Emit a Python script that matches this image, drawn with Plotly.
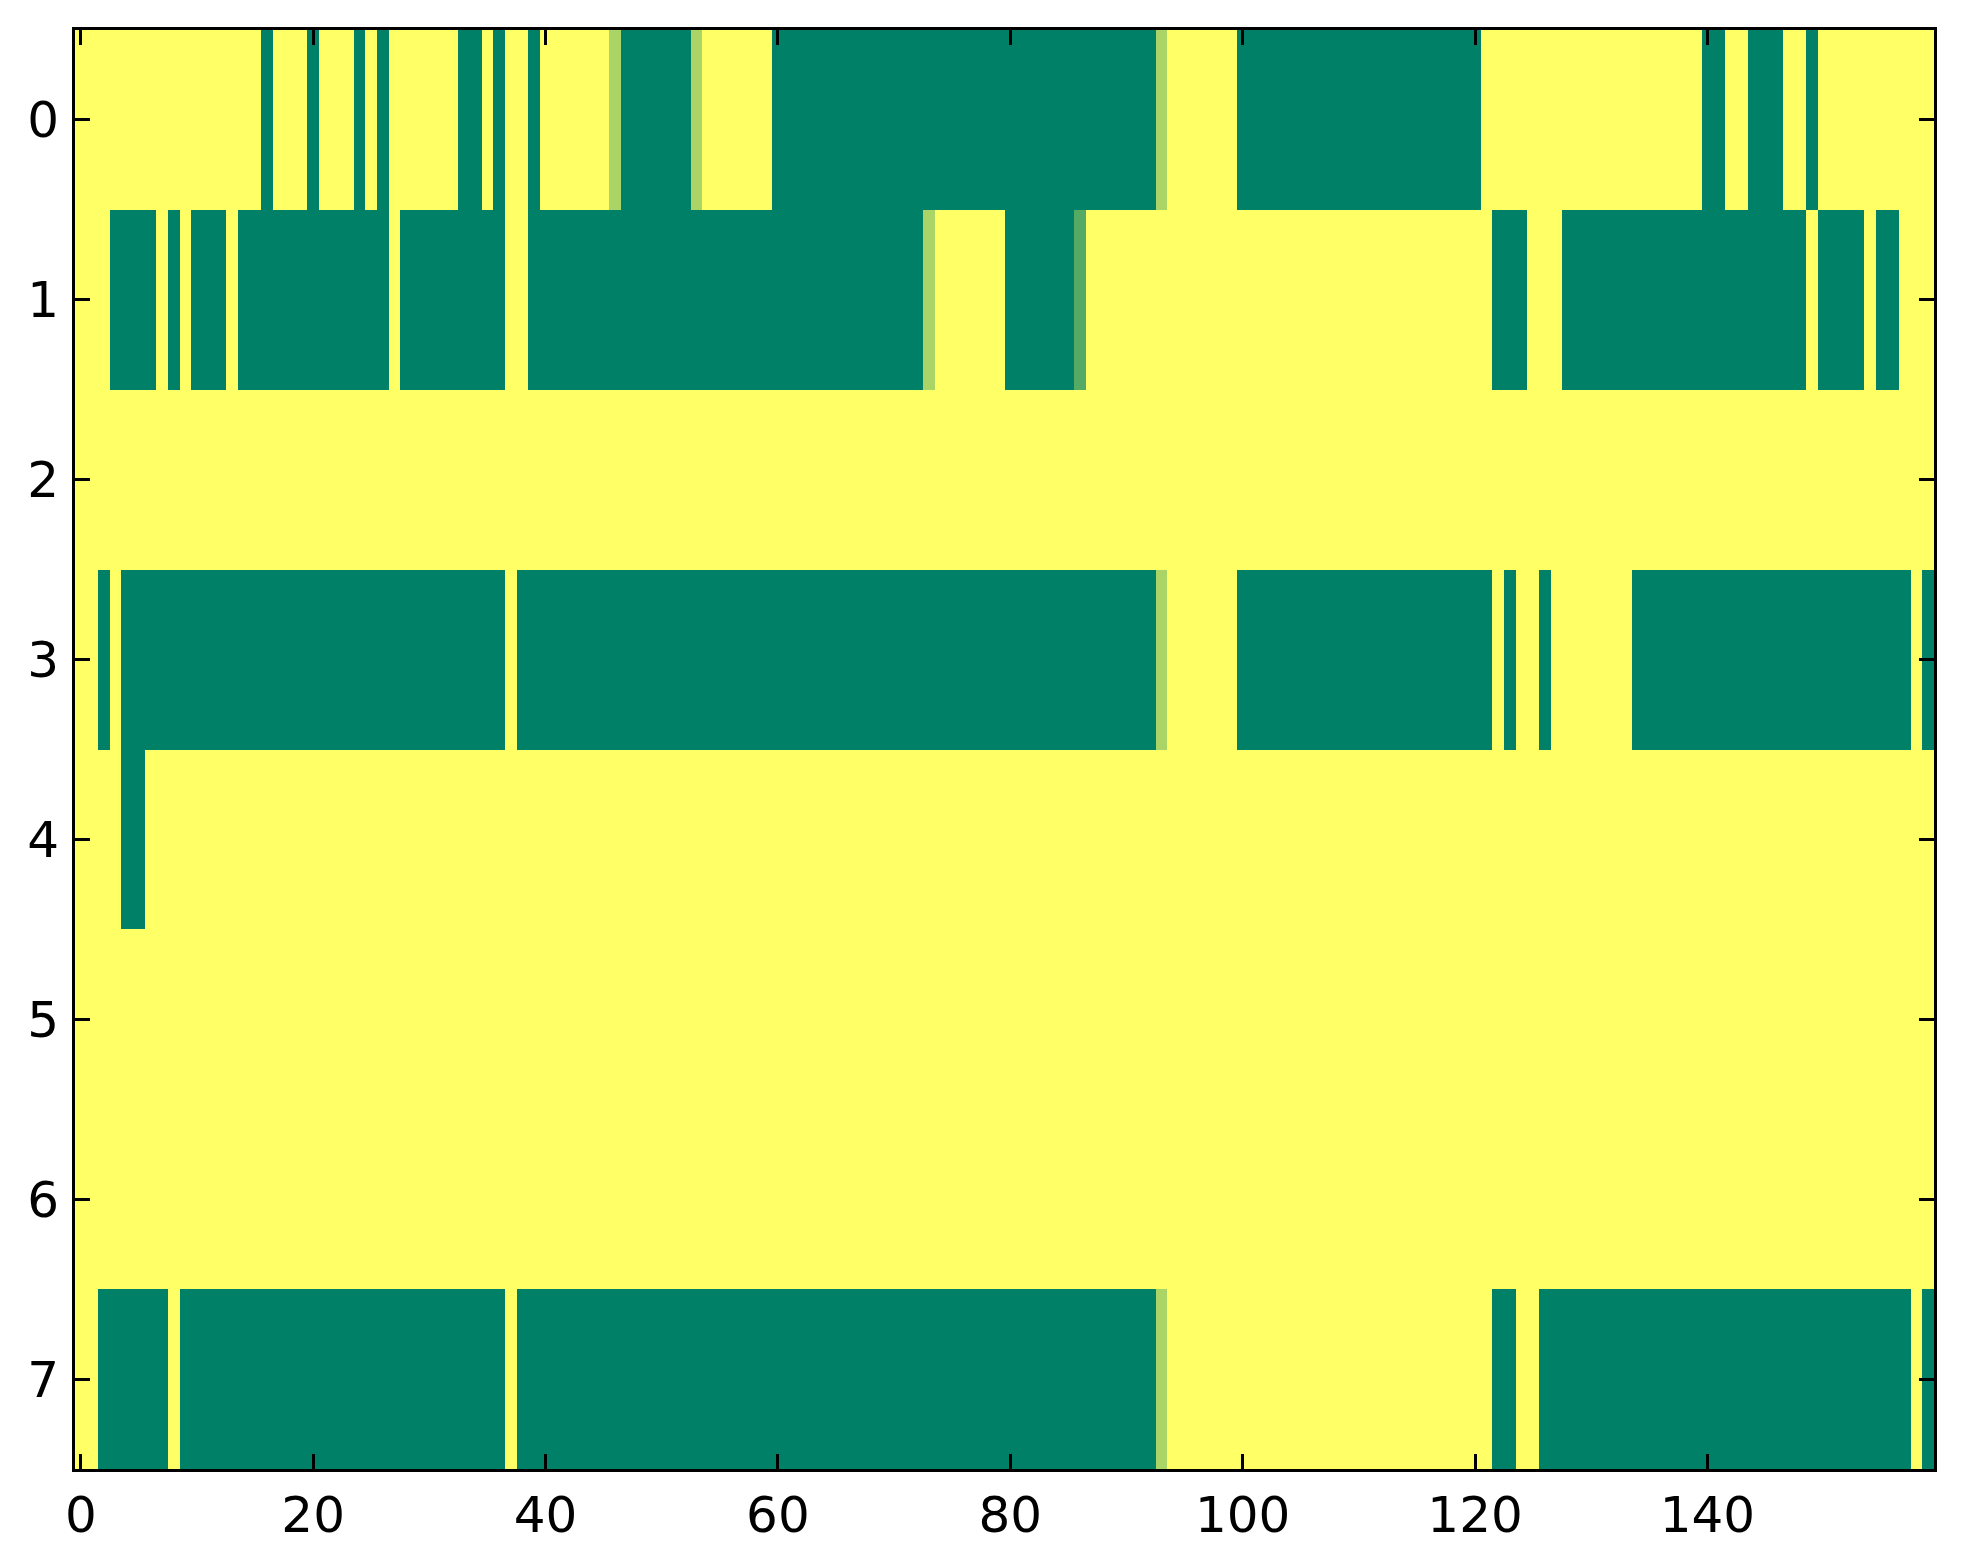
import numpy as np
import plotly.graph_objects as go

# each row: one digit per column, value = digit / 9 (0 = green, 9 = yellow)
row_0 = ("9999999999 9999990999 0999090999 9990090990 9999996000 0006999999 "
         "0000000000 0000000000 0000000000 0006999999 0000000000 0000000000 "
         "0999999999 9999999999 0099000990 9999999999")
row_1 = ("9990000909 0009000000 0000000900 0000000990 0000000000 0000000000 "
         "0000000000 0006999999 0000003999 9999999999 9999999999 9999999999 "
         "9900099900 0000000000 0000000009 0000900999")
row_2 = ("9999999999 9999999999 9999999999 9999999999 9999999999 9999999999 "
         "9999999999 9999999999 9999999999 9999999999 9999999999 9999999999 "
         "9999999999 9999999999 9999999999 9999999999")
row_3 = ("9909000000 0000000000 0000000000 0000000900 0000000000 0000000000 "
         "0000000000 0000000000 0000000000 0006999999 0000000000 0000000000 "
         "0090990999 9999000000 0000000000 0000000090")
row_4 = ("9999009999 9999999999 9999999999 9999999999 9999999999 9999999999 "
         "9999999999 9999999999 9999999999 9999999999 9999999999 9999999999 "
         "9999999999 9999999999 9999999999 9999999999")
row_5 = row_2
row_6 = row_2
row_7 = ("9900000090 0000000000 0000000000 0000000900 0000000000 0000000000 "
         "0000000000 0000000000 0000000000 0006999999 9999999999 9999999999 "
         "9900990000 0000000000 0000000000 0000000090")

rows = [row_0, row_1, row_2, row_3, row_4, row_5, row_6, row_7]
x_ticks = [0, 20, 40, 60, 80, 100, 120, 140]
y_ticks = [0, 1, 2, 3, 4, 5, 6, 7]


def decode(s):
    return [int(ch) / 9 for ch in s.replace(" ", "")]


z = np.array([decode(r) for r in rows])

# matplotlib "summer" colormap
summer = [[0.0, "#008066"], [1.0, "#ffff66"]]

fig = go.Figure()
fig.add_trace(
    go.Heatmap(
        z=z,
        x=np.arange(z.shape[1]),
        y=np.arange(z.shape[0]),
        colorscale=summer,
        zmin=0,
        zmax=1,
        showscale=False,
        hoverinfo="skip",
    )
)

axis_style = dict(
    showline=True,
    linecolor="black",
    linewidth=3,
    mirror="ticks",
    ticks="inside",
    ticklen=15,
    tickwidth=2.5,
    tickcolor="black",
    showgrid=False,
    zeroline=False,
    tickfont=dict(family="DejaVu Sans", size=50, color="black"),
)

fig.update_xaxes(
    range=[-0.5, z.shape[1] - 0.5],
    tickvals=x_ticks,
    ticklabelstandoff=0,
    **axis_style,
)
fig.update_yaxes(
    range=[z.shape[0] - 0.5, -0.5],
    tickvals=y_ticks,
    ticklabelstandoff=3,
    **axis_style,
)

fig.update_layout(
    width=1963,
    height=1564,
    margin=dict(l=67, r=37, t=22, b=103),
    paper_bgcolor="white",
    plot_bgcolor="white",
    showlegend=False,
)

fig.write_html("out.html")
